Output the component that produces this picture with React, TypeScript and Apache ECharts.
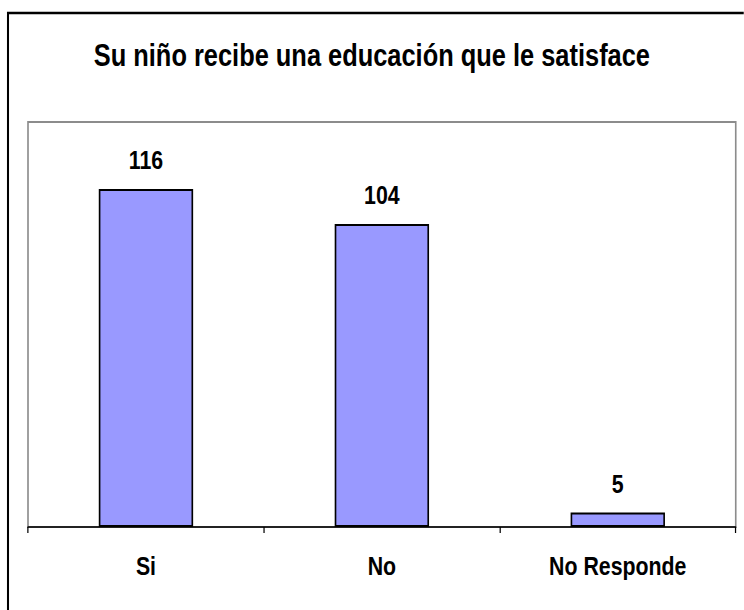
import React, { useEffect, useRef } from "react";
import * as echarts from "echarts";

const categories = ["Si", "No", "No Responde"];
const values = [116, 104, 5];
const titleText = "Su niño recibe una educación que le satisface";

// The reference uses a condensed bold face; render with Liberation Sans and
// compress the whole chart horizontally so the text looks narrow.
const K = 0.82;
const W = 744 / K;
const H = 610;
const FONT = "'Liberation Sans', Arial, sans-serif";

export default function App() {
  const ref = useRef<HTMLDivElement>(null);
  useEffect(() => {
    if (!ref.current) return;
    const chart = echarts.init(ref.current, null, { renderer: "svg" });
    chart.setOption({
      animation: false,
      backgroundColor: "#ffffff",
      title: {
        text: titleText,
        left: "center",
        top: 35,
        textStyle: { fontFamily: FONT, fontSize: 31, fontWeight: "bold", color: "#000" },
      },
      graphic: [
        {
          type: "rect",
          shape: { x: 8 / K, y: 13, width: W, height: 700 },
          style: { fill: "none", stroke: "#000", lineWidth: 2.5 },
          silent: true,
        },
      ],
      grid: {
        left: 28 / K,
        right: 8 / K,
        top: 122,
        bottom: 83,
        show: true,
        borderColor: "#8c8c8c",
        borderWidth: 2,
        backgroundColor: "transparent",
      },
      xAxis: {
        type: "category",
        data: categories,
        boundaryGap: true,
        axisLine: { show: true, lineStyle: { color: "#000", width: 1.5 } },
        axisTick: { show: true, length: 6, lineStyle: { color: "#000", width: 1.5 } },
        axisLabel: {
          margin: 26,
          fontFamily: FONT,
          fontSize: 26,
          fontWeight: "bold",
          color: "#000",
        },
      },
      yAxis: {
        type: "value",
        min: 0,
        max: 139,
        show: false,
        splitLine: { show: false },
      },
      series: [
        {
          type: "bar",
          data: values,
          barWidth: "40%",
          itemStyle: { color: "#9999ff", borderColor: "#000", borderWidth: 2 },
          label: {
            show: true,
            position: "top",
            distance: 16,
            fontFamily: FONT,
            fontSize: 26,
            fontWeight: "bold",
            color: "#000",
          },
        },
      ],
    });
    return () => chart.dispose();
  }, []);
  return (
    <div
      style={{ position: "fixed", left: 0, top: 0, width: 744, height: H, overflow: "hidden", background: "#fff" }}
    >
      <div
        ref={ref}
        style={{ width: W, height: H, transform: `scaleX(${K})`, transformOrigin: "0 0" }}
      />
    </div>
  );
}
